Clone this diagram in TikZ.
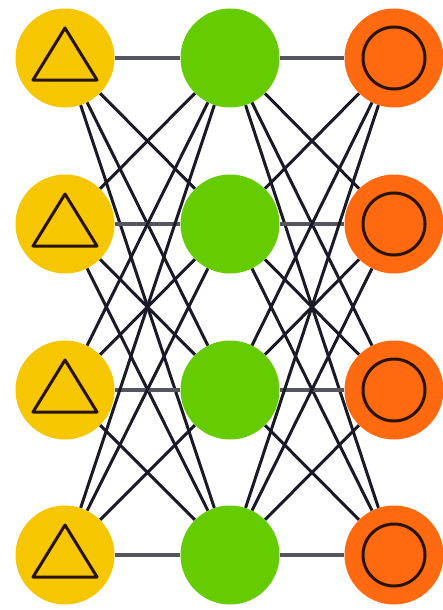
\documentclass[tikz,border=0pt]{standalone}
\begin{document}
\begin{tikzpicture}[x=1pt,y=-1pt,
  neuron/.style={circle,minimum size=99pt,inner sep=0pt,draw=none},
  inl/.style={neuron,fill={rgb,255:red,246;green,198;blue,0}},
  hid/.style={neuron,fill={rgb,255:red,100;green,204;blue,0}},
  outl/.style={neuron,fill={rgb,255:red,255;green,106;blue,16}},
  diag/.style={line width=3pt,draw={rgb,255:red,25;green,25;blue,40}},
  horiz/.style={line width=4pt,draw={rgb,255:red,85;green,85;blue,95}},
  sym/.style={line width=3pt,draw={rgb,255:red,40;green,20;blue,0}}]
\useasboundingbox (0,0) rectangle (443,610);
\foreach \i/\y in {1/58,2/224,3/390,4/555}{
  \node[inl] (a\i) at (65,\y) {};
  \node[hid] (b\i) at (230,\y) {};
  \node[outl] (c\i) at (394,\y) {};
}
\foreach \i in {1,...,4}{
  \foreach \j in {1,...,4}{
    \ifnum\i=\j
      \draw[horiz] (a\i) -- (b\j);
      \draw[horiz] (b\i) -- (c\j);
    \else
      \draw[diag] (a\i) -- (b\j);
      \draw[diag] (b\i) -- (c\j);
    \fi
  }
}
\foreach \i/\y in {1/58,2/224,3/390,4/555}{
  \draw[sym,line join=round] (65,\y-30) -- (97,\y+22) -- (33,\y+22) -- cycle;
  \draw[sym] (394,\y) circle (31);
}
\end{tikzpicture}
\end{document}
